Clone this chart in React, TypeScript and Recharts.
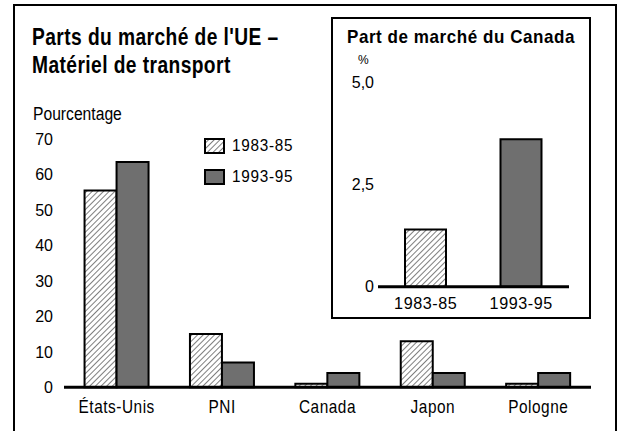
import React from 'react';
import { BarChart, Bar, XAxis, YAxis, Cell } from 'recharts';

const categories = ['États-Unis', 'PNI', 'Canada', 'Japon', 'Pologne'];
const share8385 = [55.5, 15, 1, 13, 1];
const share9395 = [63.5, 7, 4, 4, 4];
const mainTicks = [0, 10, 20, 30, 40, 50, 60, 70];
const seriesLabels = ['1983-85', '1993-95'];

const insetPeriods = ['1983-85', '1993-95'];
const insetValues = [1.4, 3.6];
const insetTicks = [0, 2.5, 5];

const FONT = '"Liberation Sans", Arial, sans-serif';
const GRAY = '#6f6f6f';

const mainData = categories.map((name, i) => ({
  name,
  a: share8385[i],
  b: share9395[i],
}));

const insetData = insetPeriods.map((name, i) => ({ name, value: insetValues[i] }));

const fmtComma = (v: number) => (v === 0 ? '0' : v.toFixed(1).replace('.', ','));

function Hatch({ id }: { id: string }) {
  return (
    <defs>
      <pattern id={id} patternUnits="userSpaceOnUse" width="4" height="4" patternTransform="rotate(45)">
        <rect width="4" height="4" fill="#fff" />
        <line x1="0" y1="0" x2="0" y2="4" stroke="#000" strokeWidth="1" />
      </pattern>
    </defs>
  );
}

// condensed-looking tick text (the original uses a narrow grotesque)
function XTick(props: any) {
  const { x, y, payload, dy, size, sx } = props;
  return (
    <text transform={`translate(${x},${y + dy}) scale(${sx},1)`} textAnchor="middle" fontSize={size} fontFamily={FONT} fill="#000" letterSpacing={0.6}>
      {payload.value}
    </text>
  );
}

function YTick(props: any) {
  const { x, y, payload, size, fmt, dx } = props;
  return (
    <text x={x + dx} y={y + size * 0.36} textAnchor="end" fontSize={size} fontFamily={FONT} fill="#000">
      {fmt ? fmt(payload.value) : payload.value}
    </text>
  );
}

function LegendRow({ label, fill, top }: { label: string; fill: string; top: number }) {
  const pid = `lg-${label}`;
  return (
    <>
      <svg style={{ position: 'absolute', left: 204, top: top - 1 }} width={22} height={17}>
        <Hatch id={pid} />
        <rect x={1} y={1} width={19} height={14} fill={fill === 'hatch' ? `url(#${pid})` : fill} stroke="#000" strokeWidth={2} />
      </svg>
      <div style={{ position: 'absolute', left: 232, top: top - 2, fontSize: 17, lineHeight: '17px', transform: 'scaleX(0.9)', transformOrigin: 'left', letterSpacing: 0.8, whiteSpace: 'nowrap' }}>
        {label}
      </div>
    </>
  );
}

export default function App() {
  return (
    <div style={{ position: 'absolute', left: 0, top: 0, width: 621, height: 431, background: '#fff', overflow: 'hidden', fontFamily: FONT }}>
      <div style={{ position: 'absolute', left: 13, top: 4, width: 600, height: 440, border: '2px solid #000' }} />

      <div style={{ position: 'absolute', left: 32, top: 23, fontSize: 23, fontWeight: 'bold', lineHeight: '28.3px', letterSpacing: 0.5, transform: 'scaleX(0.835)', transformOrigin: 'left', whiteSpace: 'nowrap' }}>
        Parts du marché de l'UE –<br />Matériel de transport
      </div>
      <div style={{ position: 'absolute', left: 33, top: 103.5, fontSize: 18, lineHeight: '20px', transform: 'scaleX(0.87)', transformOrigin: 'left', whiteSpace: 'nowrap' }}>
        Pourcentage
      </div>

      <div style={{ position: 'absolute', left: 0, top: 0 }}>
        <BarChart width={621} height={431} data={mainData} margin={{ top: 139, right: 30, bottom: 13.7, left: 0 }} barCategoryGap="19.5%" barGap={0}>
          <Hatch id="hatchMain" />
          <XAxis dataKey="name" height={30} axisLine={{ stroke: '#000', strokeWidth: 3 }} tickLine={false} interval={0} tick={<XTick dy={17.4} size={17.5} sx={0.88} />} />
          <YAxis domain={[0, 70]} ticks={mainTicks} interval={0} axisLine={false} tickLine={false} width={64} tick={<YTick size={16} dx={-3} />} />
          <Bar dataKey="a" name={seriesLabels[0]} fill="url(#hatchMain)" stroke="#000" strokeWidth={2} isAnimationActive={false} />
          <Bar dataKey="b" name={seriesLabels[1]} fill={GRAY} stroke="#000" strokeWidth={2} isAnimationActive={false} />
        </BarChart>
      </div>

      <LegendRow label={seriesLabels[0]} fill="hatch" top={139} />
      <LegendRow label={seriesLabels[1]} fill={GRAY} top={170} />

      <div style={{ position: 'absolute', left: 331, top: 17, width: 256, height: 298, border: '2px solid #000', background: '#fff' }}>
        <div style={{ position: 'absolute', left: 0, width: 256, top: 8, textAlign: 'center', fontSize: 18.5, lineHeight: '20px', fontWeight: 'bold', letterSpacing: 0.6, transform: 'scaleX(0.92)', whiteSpace: 'nowrap' }}>
          Part de marché du Canada
        </div>
        <div style={{ position: 'absolute', left: 25, top: 34, fontSize: 12, lineHeight: '14px' }}>%</div>
        <div style={{ position: 'absolute', left: -1, top: -1 }}>
          <BarChart width={258} height={300} data={insetData} margin={{ top: 64, right: 21, bottom: 11.3, left: 0 }}>
            <Hatch id="hatchInset" />
            <XAxis dataKey="name" height={20} axisLine={{ stroke: '#000', strokeWidth: 3 }} tickLine={false} interval={0} tick={<XTick dy={14.6} size={17} sx={0.95} />} />
            <YAxis domain={[0, 5]} ticks={insetTicks} interval={0} axisLine={false} tickLine={false} width={46} tick={<YTick size={16} dx={4} fmt={fmtComma} />} />
            <Bar dataKey="value" barSize={41} stroke="#000" strokeWidth={2} isAnimationActive={false}>
              {insetData.map((d, i) => (
                <Cell key={d.name} fill={i === 0 ? 'url(#hatchInset)' : GRAY} />
              ))}
            </Bar>
          </BarChart>
        </div>
      </div>
    </div>
  );
}
